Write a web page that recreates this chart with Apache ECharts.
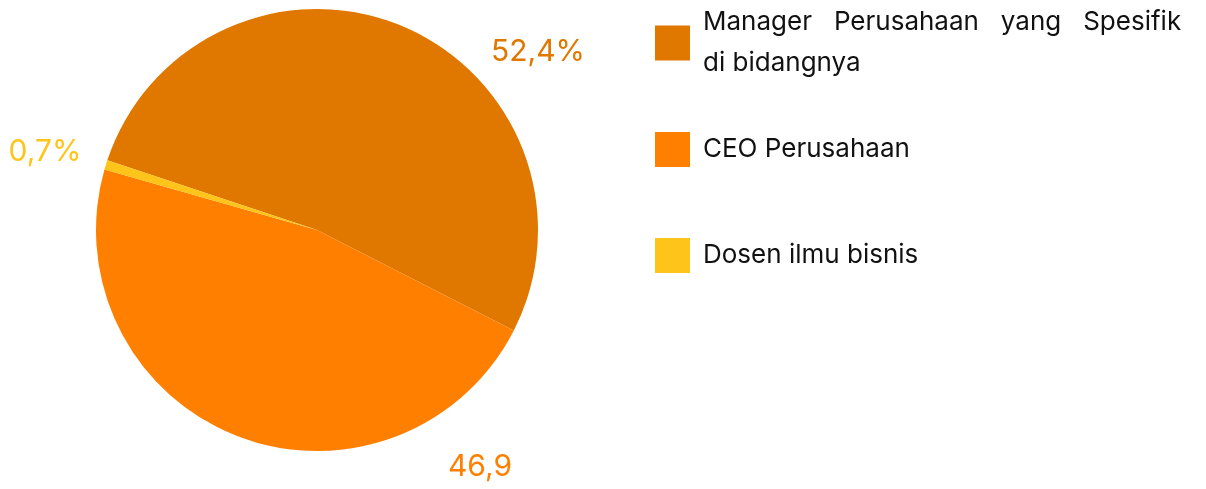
<!DOCTYPE html>
<html>
<head>
<meta charset="utf-8">
<script src="https://cdn.jsdelivr.net/npm/echarts@6/dist/echarts.min.js"></script>
<style>
  html, body { margin: 0; padding: 0; background: #fff; }
  #chart { width: 1206px; height: 489px; }
</style>
</head>
<body>
<div id="chart"></div>
<script>
  // data
  var categories = ['Manager Perusahaan yang Spesifik di bidangnya', 'CEO Perusahaan', 'Dosen ilmu bisnis'];
  // the first label is justified in the original, wider gaps between words
  var legendLabels = ['Manager   Perusahaan   yang   Spesifik\ndi bidangnya', 'CEO Perusahaan', 'Dosen ilmu bisnis'];
  var values = [52.4, 46.9, 0.7];
  var valueLabels = ['52,4%', '46,9', '0,7%'];
  var colors = ['#E07800', '#FF7F00', '#FFC41A'];

  var FONT = 'Inter';
  // label anchor spots (px)
  var labelSpots = [[538, 52], [480, 467], [45, 152]];

  var chart = echarts.init(document.getElementById('chart'));

  function makeLegend(i, top, lh) {
    return {
      data: [categories[i]],
      orient: 'vertical',
      left: 655,
      top: top,
      padding: 0,
      itemWidth: 35,
      itemHeight: 35,
      icon: 'rect',
      selectedMode: false,
      formatter: function (name) {
        return legendLabels[categories.indexOf(name)];
      },
      textStyle: {
        fontFamily: FONT,
        fontSize: 26,
        color: '#111',
        lineHeight: lh,
        padding: [0, 0, 0, 8]
      }
    };
  }

  chart.setOption({
    animation: false,
    color: colors,
    legend: [
      makeLegend(0, 2, 41),
      makeLegend(1, 132, 35),
      makeLegend(2, 238, 35)
    ],
    series: [{
      type: 'pie',
      center: [317, 230],
      radius: 221,
      startAngle: 161.6,
      clockwise: true,
      label: {
        show: true,
        position: 'outside',
        fontFamily: FONT,
        fontSize: 30,
        overflow: 'none',
        formatter: function (p) { return valueLabels[p.dataIndex]; }
      },
      labelLine: { show: false },
      labelLayout: function (p) {
        var s = labelSpots[p.dataIndex];
        return { x: s[0], y: s[1], align: 'center', verticalAlign: 'middle' };
      },
      emphasis: { disabled: true },
      data: categories.map(function (c, i) {
        return { name: c, value: values[i], label: { color: colors[i] } };
      })
    }]
  });
</script>
</body>
</html>
